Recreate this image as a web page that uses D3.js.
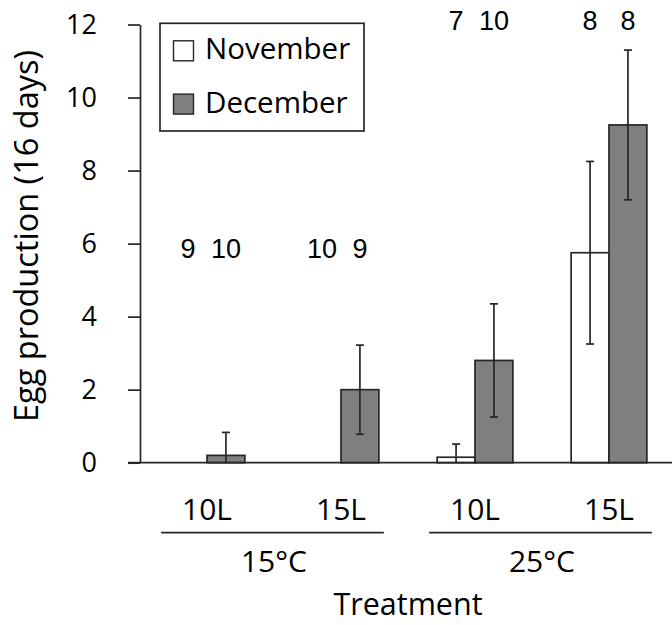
<!DOCTYPE html>
<html>
<head>
<meta charset="utf-8">
<script src="https://cdn.jsdelivr.net/npm/d3@7"></script>
<style>
  body { margin: 0; background: #fff; }
  svg { display: block; }
  .tick text { font-family: "Open Sans", sans-serif; }
</style>
</head>
<body>
<div id="chart"></div>
<script>
"use strict";

/* global d3 */

const treatments = ['10L', '15L', '10L', '15L'];
const temperatures = ['15°C', '25°C'];
const series = ['November', 'December'];
const november = [0, 0, 0.15, 5.75];
const novemberErr = [0, 0, 0.36, 2.5];
const december = [0.2, 2.0, 2.8, 9.25];
const decemberErr = [0.63, 1.22, 1.55, 2.05];
const nNovember = [9, 10, 7, 8];
const nDecember = [10, 9, 10, 8];
const yTicks = [0, 2, 4, 6, 8, 10, 12];

// y level (data units) where the sample sizes sit
const nLabelAt = [5.6, 5.6, 11.85, 11.85];

const width = 672;
const height = 625;
const ink = '#262626';
const colors = { November: '#ffffff', December: '#7f7f7f' };

function translateStr(x, y) {
  return 'translate(' + x + ', ' + y + ')';
}

let svg = d3.select('#chart')
  .append('svg')
  .attr('width', width)
  .attr('height', height);

let x = d3.scaleBand()
  .domain(d3.range(treatments.length))
  .range([140, 676])
  .paddingInner(0.435)
  .paddingOuter(0.2175);

let xs = d3.scaleBand()
  .domain(series)
  .range([0, x.bandwidth()]);

let y = d3.scaleLinear()
  .domain([0, 12])
  .range([462.7, 24.5]);

// y axis
let yAxis = svg.append('g')
  .attr('transform', translateStr(140, 0))
  .call(d3.axisLeft(y).tickValues(yTicks).tickSize(12).tickSizeOuter(0).tickPadding(31));

yAxis.select('.domain').attr('stroke', ink).attr('stroke-width', 1.7);
yAxis.selectAll('.tick line').attr('stroke', ink).attr('stroke-width', 1.7);
yAxis.selectAll('.tick text')
  .attr('fill', '#000')
  .style('font-size', '27px');

// bars
let rows = d3.range(treatments.length).flatMap(i => [
  { i: i, s: 'November', v: november[i], e: novemberErr[i], n: nNovember[i] },
  { i: i, s: 'December', v: december[i], e: decemberErr[i], n: nDecember[i] }
]);

svg.append('g')
  .selectAll('rect')
  .data(rows.filter(d => d.v > 0))
  .join('rect')
  .attr('x', d => x(d.i) + xs(d.s))
  .attr('y', d => y(d.v))
  .attr('width', xs.bandwidth())
  .attr('height', d => y(0) - y(d.v))
  .attr('fill', d => colors[d.s])
  .attr('stroke', ink)
  .attr('stroke-width', 1.7);

// error bars
let errs = svg.append('g')
  .attr('stroke', ink)
  .attr('stroke-width', 1.7)
  .selectAll('g')
  .data(rows.filter(d => d.e > 0))
  .join('g')
  .attr('transform', d => translateStr(x(d.i) + xs(d.s) + xs.bandwidth() / 2, 0));

errs.append('line')
  .attr('y1', d => y(Math.max(0, d.v - d.e)))
  .attr('y2', d => y(d.v + d.e));

errs.append('line')
  .attr('x1', -4).attr('x2', 4)
  .attr('y1', d => y(d.v + d.e))
  .attr('y2', d => y(d.v + d.e));

errs.filter(d => d.v - d.e > 0)
  .append('line')
  .attr('x1', -4).attr('x2', 4)
  .attr('y1', d => y(d.v - d.e))
  .attr('y2', d => y(d.v - d.e));

// baseline
svg.append('line')
  .attr('x1', 128).attr('x2', width)
  .attr('y1', y(0)).attr('y2', y(0))
  .attr('stroke', ink)
  .attr('stroke-width', 1.7);

// sample sizes
svg.append('g')
  .selectAll('text')
  .data(rows)
  .join('text')
  .attr('x', d => x(d.i) + xs(d.s) + xs.bandwidth() / 2)
  .attr('y', d => y(nLabelAt[d.i]))
  .attr('text-anchor', 'middle')
  .style('font-family', '"Liberation Sans", Arial, sans-serif')
  .style('font-size', '27px')
  .attr('fill', '#000')
  .text(d => d.n);

// treatment labels
svg.append('g')
  .selectAll('text')
  .data(treatments)
  .join('text')
  .attr('x', (d, i) => x(i) + x.bandwidth() / 2)
  .attr('y', 520)
  .attr('text-anchor', 'middle')
  .style('font-family', '"Open Sans", sans-serif')
  .style('font-size', '30px')
  .text(d => d);

// temperature brackets
let temp = svg.append('g')
  .selectAll('g')
  .data(temperatures)
  .join('g');

temp.append('line')
  .attr('x1', (d, k) => x(k * 2) - 8)
  .attr('x2', (d, k) => x(k * 2 + 1) + x.bandwidth() + 5)
  .attr('y1', 532.7).attr('y2', 532.7)
  .attr('stroke', ink)
  .attr('stroke-width', 1.7);

temp.append('text')
  .attr('x', (d, k) => (x(k * 2) + x(k * 2 + 1) + x.bandwidth()) / 2)
  .attr('y', 572)
  .attr('text-anchor', 'middle')
  .style('font-family', '"Open Sans", sans-serif')
  .style('font-size', '30px')
  .text(d => d);

// axis titles
svg.append('text')
  .attr('x', (x.range()[0] + x.range()[1]) / 2)
  .attr('y', 615)
  .attr('text-anchor', 'middle')
  .style('font-family', '"Open Sans", sans-serif')
  .style('font-size', '30.5px')
  .text('Treatment');

svg.append('text')
  .attr('transform', translateStr(37.5, 236) + ' rotate(-90)')
  .attr('text-anchor', 'middle')
  .style('font-family', '"Open Sans", sans-serif')
  .style('font-size', '32.5px')
  .text('Egg production (16 days)');

// legend
let legend = svg.append('g')
  .attr('transform', translateStr(160, 23.3));

legend.append('rect')
  .attr('width', 204)
  .attr('height', 107.7)
  .attr('fill', '#fff')
  .attr('stroke', ink)
  .attr('stroke-width', 1.7);

let items = legend.selectAll('g')
  .data(series)
  .join('g')
  .attr('transform', (d, i) => translateStr(13.5, 17.5 + i * 53.3));

items.append('rect')
  .attr('width', 20)
  .attr('height', 20)
  .attr('fill', d => colors[d])
  .attr('stroke', ink)
  .attr('stroke-width', 1.4);

items.append('text')
  .attr('x', 31.5)
  .attr('y', 18.5)
  .style('font-family', '"Open Sans", sans-serif')
  .style('font-size', '29.5px')
  .text(d => d);
</script>
</body>
</html>
